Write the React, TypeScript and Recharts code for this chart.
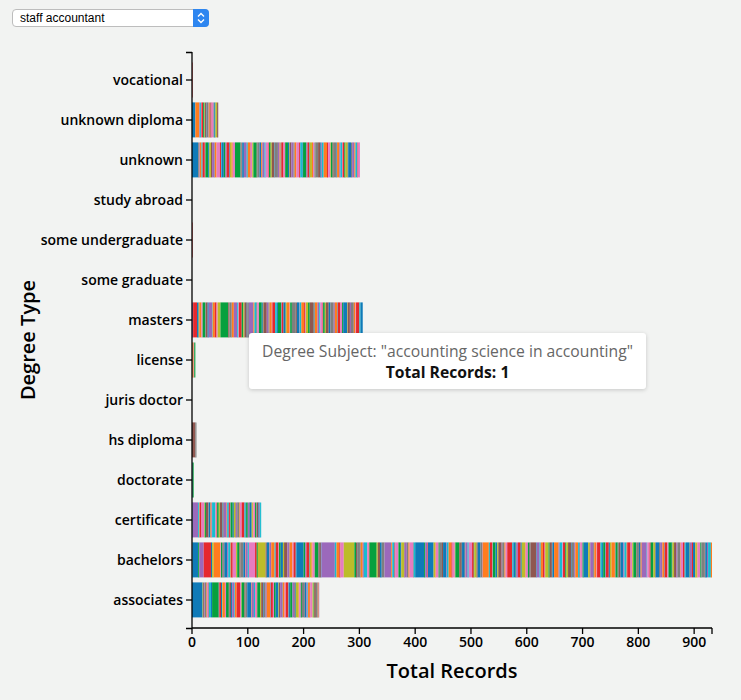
import React from 'react';
import { BarChart, Bar, XAxis, YAxis, Cell, Label } from 'recharts';

// Degree types, top to bottom
const DEGREE_TYPES = [
  'vocational',
  'unknown diploma',
  'unknown',
  'study abroad',
  'some undergraduate',
  'some graduate',
  'masters',
  'license',
  'juris doctor',
  'hs diploma',
  'doctorate',
  'certificate',
  'bachelors',
  'associates',
];

// Records per degree subject, in stacking order, for each degree type
const vocational = [1];
const unknownDiploma = [6, 7, 1, 2, 1, 3, 2, 1, 2, 1, 3, 1, 2, 1, 2, 4, 1, 2, 3, 2];
const unknown = [
  11, 2, 1, 3, 2, 4, 1, 5, 2, 3,
  2, 4, 1, 3, 6, 2, 1, 4, 3, 2,
  5, 1, 3, 2, 4, 10, 2, 1, 3, 5,
  2, 4, 1, 3, 2, 6, 1, 4, 3, 2,
  4, 2, 5, 1, 3, 2, 4, 1, 6, 3,
  2, 1, 4, 3, 5, 2, 1, 3, 4, 2,
  3, 5, 2, 4, 1, 6, 2, 3, 1, 4,
  2, 3, 1, 5, 4, 2, 1, 3, 6, 2,
  4, 1, 3, 2, 5, 1, 4, 2, 3, 1,
  3, 2, 4, 1, 5, 2, 4, 2, 3, 1, 4,
];
const studyAbroad: number[] = [];
const someUndergraduate = [1];
const someGraduate: number[] = [];
const masters = [
  2, 7, 3, 1, 4, 2, 5, 1, 3, 2,
  6, 1, 4, 3, 2, 5, 14, 2, 3, 1,
  4, 6, 2, 1, 5, 3, 2, 4, 1, 3,
  8, 2, 4, 1, 3, 5, 2, 1, 6, 3,
  2, 4, 1, 5, 3, 2, 6, 1, 3, 4,
  2, 5, 1, 3, 7, 2, 4, 1, 3, 5,
  2, 1, 4, 3, 6, 2, 1, 5, 3, 2,
  4, 1, 3, 2, 5,
  3, 6, 2, 4, 1, 5, 3, 2, 7, 1,
  4, 2, 5, 3, 1, 6, 2, 4,
];
const license = [1, 2, 1, 2];
const jurisDoctor: number[] = [];
const hsDiploma = [6, 2];
const doctorate = [1, 2];
const certificate = [
  1, 10, 2, 1, 3, 5, 1, 2, 4, 1,
  3, 2, 1, 6, 2, 1, 3, 2, 4, 1,
  2, 5, 1, 3, 2, 1, 4, 2, 3, 1,
  2, 4, 1, 3, 5, 2, 1, 3, 2, 1,
  4, 2, 1, 3, 2, 1, 3, 2, 1, 2,
];
const bachelors = [
  1, 10, 2, 8, 13, 2, 3, 12, 1, 2,
  3, 1, 5, 2, 4, 1, 3, 6, 2, 4,
  2, 5, 3, 1, 4, 2, 11, 3, 2, 14,
  2, 4, 1, 3, 6, 2, 5, 1, 3, 4,
  2, 6, 3, 1, 5, 2, 4, 1, 13, 3,
  2, 5, 1, 3, 2, 4, 6, 2, 3, 1,
  24, 3, 5, 2, 6, 19, 3, 2, 5, 1,
  4, 2, 6, 3, 1, 13, 2, 4, 3, 5,
  12, 2, 4, 1, 6, 3, 2, 5, 1, 4,
  3, 2, 6, 1, 3, 16, 2, 4, 1, 10,
  3, 1, 5, 2, 4, 2, 6, 1, 3, 5,
  2, 4, 1, 7, 3, 2, 5, 1, 4, 2,
  6, 3, 1, 4, 2, 5, 3, 1, 11, 2,
  4, 1, 5, 3, 2, 6, 1, 4, 2, 3,
  9, 2, 4, 1, 3, 5, 2, 6, 1, 4,
  2, 3, 10, 1, 5, 2, 4, 3, 1, 6,
  2, 4, 1, 3, 8, 2, 5, 1, 4, 2,
  3, 6, 1, 4, 2, 5, 3, 1, 4, 2,
  8, 3, 1, 5, 2, 4, 1, 6, 3, 2,
  4, 1, 5, 2, 3, 6, 1, 4, 2, 3,
  5, 2, 4, 1, 6, 3, 2, 5, 1, 4,
  3, 2, 9, 1, 4, 2, 5, 3, 1, 6,
  2, 4, 3, 1, 5, 2, 6, 1, 3, 4,
  2, 5, 1, 4, 3, 2, 6, 1, 4, 2,
  4, 3, 1, 5, 2, 6, 1, 3, 2, 5,
  2,
];
const associates = [
  19, 1, 2, 1, 3, 1, 2, 1, 4, 2,
  12, 1, 3, 2, 1, 4, 2, 5, 1, 3,
  2, 4, 1, 3, 6, 2, 1, 5, 2, 3,
  7, 1, 4, 2, 3, 1, 5, 2, 4, 1,
  3, 2, 6, 1, 4, 2, 3, 5, 1, 2,
  4, 1, 3, 2, 5, 1, 2, 4, 3, 1,
  2, 5, 1, 3, 2, 4, 1, 3, 2, 1,
  3, 1, 4, 2, 1, 3, 2, 1, 2, 1,
];

const SEGMENTS_BY_TYPE = [
  vocational, unknownDiploma, unknown, studyAbroad, someUndergraduate, someGraduate,
  masters, license, jurisDoctor, hsDiploma, doctorate, certificate, bachelors, associates,
];

const X_TICKS = [0, 100, 200, 300, 400, 500, 600, 700, 800, 900];

// Styling: category colours and the order they appear in
const PALETTE = ['#0f7ab8', '#ff7c1f', '#06a03e', '#e5282e', '#9b69bb', '#8f5750', '#e67cc2', '#7f7f7f', '#bcbc2a', '#17bcd0'];
const COLOR_CYCLE = [9, 0, 2, 4, 3, 0, 8, 1, 6, 2, 7, 5, 0, 4, 9, 1, 3, 6, 8, 2, 5, 7, 0, 1, 4, 9, 6, 3, 2, 8, 5, 0, 7, 4, 1, 9, 3, 6, 2, 0, 8, 5, 4, 7, 1, 6, 3];
const COLOR_START = [4, 22, 31, 0, 16, 0, 3, 6, 0, 20, 1, 12, 0, 39];

const FONT = '"Open Sans", "Noto Sans", sans-serif';

// Layout constants
const W = 741;
const H = 700;
const MARGIN = { top: 52, right: 29, bottom: 12, left: 0 };
const Y_AXIS_W = 192;
const X_AXIS_H = 60;
const PLOT_LEFT = MARGIN.left + Y_AXIS_W;
const PLOT_RIGHT = W - MARGIN.right;
const PLOT_TOP = MARGIN.top;
const PLOT_BOTTOM = H - MARGIN.bottom - X_AXIS_H;

const maxSegments = Math.max(...SEGMENTS_BY_TYPE.map((s) => s.length));
const segmentKeys = Array.from({ length: maxSegments }, (_, j) => `s${j}`);
const rows = DEGREE_TYPES.map((name, r) => {
  const row: Record<string, any> = { name };
  segmentKeys.forEach((k, j) => {
    row[k] = SEGMENTS_BY_TYPE[r][j] ?? 0;
  });
  return row;
});

const colorFor = (r: number, j: number) => PALETTE[COLOR_CYCLE[(COLOR_START[r] + j) % COLOR_CYCLE.length]];

export default function App() {
  return (
    <div style={{ position: 'fixed', left: 0, top: 0, width: W, height: H, background: '#f2f3f2', fontFamily: FONT, overflow: 'hidden' }}>
      <div style={{ position: 'absolute', left: 0, top: 0 }}>
        <BarChart
          width={W}
          height={H}
          data={rows}
          layout="vertical"
          margin={MARGIN}
          barCategoryGap="6%"
        >
          <XAxis
            type="number"
            domain={[0, 'dataMax']}
            ticks={X_TICKS}
            height={X_AXIS_H}
            axisLine={{ stroke: '#000', strokeWidth: 1.3 }}
            tickLine={{ stroke: '#000', strokeWidth: 1.3 }}
            tickSize={6}
            tickMargin={3}
            tick={{ fill: '#000', fontSize: 14, fontWeight: 600, fontFamily: FONT }}
          >
            <Label value="Total Records" position="insideBottom" offset={10} style={{ fill: '#000', fontSize: 20, fontWeight: 600, fontFamily: FONT }} />
          </XAxis>
          <YAxis
            type="category"
            dataKey="name"
            width={Y_AXIS_W}
            interval={0}
            padding={{ top: 8, bottom: 8 }}
            axisLine={{ stroke: '#000', strokeWidth: 1.3 }}
            tickLine={{ stroke: '#000', strokeWidth: 1.3 }}
            tickSize={6}
            tickMargin={3}
            tick={{ fill: '#000', fontSize: 14, fontWeight: 600, fontFamily: FONT }}
          >
            <Label value="Degree Type" angle={-90} position="insideLeft" offset={28} style={{ fill: '#000', fontSize: 20, fontWeight: 600, fontFamily: FONT, textAnchor: 'middle' }} />
          </YAxis>
          {segmentKeys.map((k, j) => (
            <Bar key={k} dataKey={k} stackId="degree" isAnimationActive={false}>
              {rows.map((_, r) => (
                <Cell key={r} fill={colorFor(r, j)} />
              ))}
            </Bar>
          ))}
        </BarChart>
      </div>

      {/* outer ticks at the ends of the axis lines */}
      <svg width={W} height={H} style={{ position: 'absolute', left: 0, top: 0, pointerEvents: 'none' }}>
        <path
          d={`M${PLOT_LEFT - 6},${PLOT_TOP + 0.5}H${PLOT_LEFT} M${PLOT_LEFT - 6},${PLOT_BOTTOM + 0.5}H${PLOT_LEFT} M${PLOT_RIGHT},${PLOT_BOTTOM}V${PLOT_BOTTOM + 6}`}
          stroke="#000"
          strokeWidth={1.3}
          fill="none"
        />
      </svg>

      {/* dropdown */}
      <div
        style={{
          position: 'absolute', left: 12, top: 9, width: 197, height: 18, boxSizing: 'border-box',
          background: '#fff', border: '1px solid #bdbdbd', borderRadius: 4,
          fontFamily: '"Liberation Sans", Arial, sans-serif', fontSize: 12, lineHeight: '16px',
          paddingLeft: 7, color: '#000',
        }}
      >
        staff accountant
        <div style={{ position: 'absolute', right: -1, top: -1, width: 16, height: 18, background: '#2e86f0', borderRadius: '0 4px 4px 0' }}>
          <svg width="16" height="18" style={{ display: 'block' }}>
            <polyline points="5,7.5 8,4.5 11,7.5" fill="none" stroke="#fff" strokeWidth="1.4" />
            <polyline points="5,10.5 8,13.5 11,10.5" fill="none" stroke="#fff" strokeWidth="1.4" />
          </svg>
        </div>
      </div>

      {/* hover tooltip as shown */}
      <div
        style={{
          position: 'absolute', left: 249, top: 333, width: 397, height: 56, boxSizing: 'border-box',
          background: '#fff', borderRadius: 3, boxShadow: '0 1px 4px rgba(0,0,0,0.18)',
          textAlign: 'center', paddingTop: 8, fontFamily: FONT, fontSize: 15.7, lineHeight: '21px',
        }}
      >
        <div style={{ color: '#666' }}>Degree Subject: "accounting science in accounting"</div>
        <div style={{ color: '#111', fontWeight: 700 }}>Total Records: 1</div>
      </div>
    </div>
  );
}
